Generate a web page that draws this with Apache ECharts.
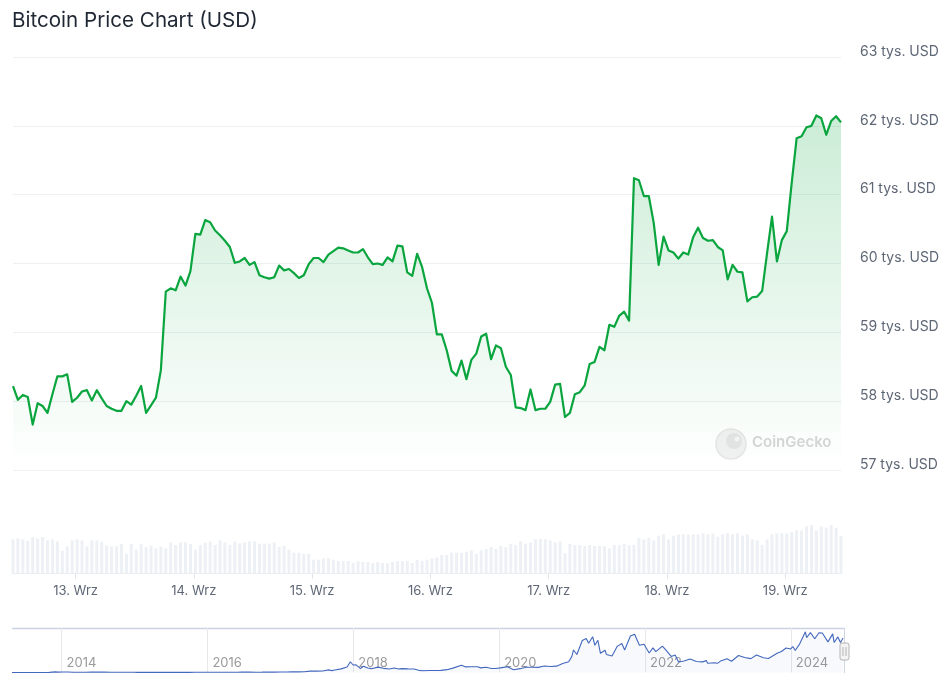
<!DOCTYPE html>
<html>
<head>
<meta charset="utf-8">
<script src="https://cdn.jsdelivr.net/npm/echarts@6/dist/echarts.min.js"></script>
<style>
html,body{margin:0;padding:0;background:#fff;}
#chart{width:948px;height:691px;}
</style>
</head>
<body>
<div id="chart"></div>
<script>
// ---------- DATA ----------
// hourly price (thousand USD), 12 Wrz ~11:18 -> 19 Wrz ~11:18
const priceValues = [
58.22,58.02,58.09,58.06,57.66,57.97,57.93,57.83,58.10,58.36,
58.36,58.39,57.99,58.05,58.14,58.16,58.01,58.16,58.04,57.93,
57.89,57.86,57.86,58.00,57.95,58.08,58.22,57.83,57.94,58.05,
58.45,59.59,59.64,59.61,59.81,59.68,59.89,60.43,60.42,60.63,
60.60,60.48,60.41,60.33,60.24,60.01,60.03,60.08,59.98,60.02,
59.83,59.80,59.78,59.80,59.97,59.90,59.92,59.86,59.79,59.83,
59.99,60.08,60.08,60.02,60.13,60.18,60.23,60.22,60.19,60.16,
60.16,60.21,60.09,59.99,60.00,59.98,60.09,60.03,60.26,60.25,
59.87,59.82,60.14,59.95,59.64,59.43,58.97,58.97,58.74,58.44,
58.37,58.59,58.32,58.60,58.69,58.94,58.98,58.61,58.81,58.77,
58.50,58.38,57.91,57.90,57.87,58.17,57.87,57.89,57.89,57.99,
58.24,58.25,57.77,57.83,58.10,58.13,58.23,58.54,58.57,58.79,
58.74,59.11,59.08,59.24,59.30,59.17,61.24,61.21,60.98,60.98,
60.59,59.98,60.39,60.19,60.16,60.07,60.16,60.13,60.38,60.52,
60.37,60.33,60.34,60.24,60.19,59.77,59.98,59.88,59.87,59.45,
59.51,59.52,59.60,60.15,60.68,60.03,60.34,60.47,61.17,61.82,
61.85,61.98,62.00,62.15,62.11,61.87,62.07,62.14,62.05
];
// 24h volume (billion USD), one per price point
const volumeValues = [
34.3,35.3,34.3,32.7,36.7,35.3,36.7,33.3,34.3,32.3,
23.0,27.3,33.3,34.3,33.3,27.3,33.3,33.3,32.0,28.3,
27.3,27.3,30.0,19.7,30.0,24.0,30.0,26.7,28.3,25.3,
27.0,25.3,31.3,28.7,31.3,31.3,29.7,24.0,28.7,31.0,
32.3,28.7,33.3,31.3,28.7,32.3,30.3,31.3,32.3,32.3,
30.0,30.0,30.0,31.3,26.7,27.7,24.0,
21.0,21.0,20.0,20.0,14.0,14.0,15.3,15.3,14.0,12.7,
12.7,12.7,10.7,12.7,11.7,11.7,10.7,11.7,10.7,10.7,
11.7,12.7,12.7,12.7,10.7,14.0,12.7,14.0,15.3,16.3,
18.7,18.7,21.0,21.0,21.0,22.0,23.3,20.0,23.3,24.7,
26.7,24.7,27.7,26.7,30.0,28.7,32.3,30.0,31.3,34.7,
34.7,34.7,33.3,31.3,32.3,
20.7,30.0,28.7,28.7,27.7,28.7,27.7,27.7,27.7,25.3,
28.7,28.7,30.0,28.7,28.7,35.7,34.3,35.7,33.3,38.0,
39.3,34.3,38.0,39.3,39.3,39.3,39.3,39.3,40.3,39.3,
40.3,37.0,39.3,40.3,39.3,40.3,38.0,39.3,34.3,33.3,
28.7,34.3,39.3,40.3,40.3,40.3,41.7,43.3,43.3,47.3,
48.7,43.3,47.3,46.0,48.7,46.0,38.0
];
const startTime = Date.UTC(2024, 8, 12, 11, 18);
const hourMs = 3600 * 1000;
const dayTicks = [
  Date.UTC(2024, 8, 13), Date.UTC(2024, 8, 14), Date.UTC(2024, 8, 15),
  Date.UTC(2024, 8, 16), Date.UTC(2024, 8, 17), Date.UTC(2024, 8, 18),
  Date.UTC(2024, 8, 19)
];
const monthLabel = 'Wrz';
const priceUnit = ' tys. USD';

// navigator: full history (thousand USD)
const navDates = [
'2013-04-28','2013-06-01','2013-07-01','2013-08-01','2013-09-01','2013-10-01','2013-11-01','2013-11-30','2013-12-15',
'2014-01-05','2014-02-01','2014-03-01','2014-04-01','2014-05-01','2014-06-01','2014-07-01','2014-08-01','2014-09-01','2014-10-01','2014-11-01','2014-12-01',
'2015-01-01','2015-01-15','2015-02-01','2015-03-01','2015-04-01','2015-05-01','2015-06-01','2015-07-01','2015-08-01','2015-09-01','2015-10-01','2015-11-01','2015-11-05','2015-12-01',
'2016-01-01','2016-02-01','2016-03-01','2016-04-01','2016-05-01','2016-06-01','2016-06-17','2016-07-01','2016-08-01','2016-09-01','2016-10-01','2016-11-01','2016-12-01',
'2017-01-01','2017-02-01','2017-03-01','2017-04-01','2017-05-01','2017-06-01','2017-07-01','2017-08-01','2017-09-01','2017-09-15','2017-10-01','2017-11-01','2017-12-01','2017-12-17','2017-12-31',
'2018-01-15','2018-02-06','2018-02-20','2018-03-15','2018-04-01','2018-05-05','2018-06-01','2018-07-01','2018-07-25','2018-08-15','2018-09-01','2018-10-01','2018-11-01','2018-11-25','2018-12-15',
'2019-01-15','2019-02-15','2019-03-15','2019-04-15','2019-05-15','2019-06-26','2019-07-15','2019-08-15','2019-09-15','2019-10-01','2019-10-26','2019-11-25','2019-12-15',
'2020-01-15','2020-02-12','2020-03-13','2020-04-15','2020-05-15','2020-06-15','2020-07-15','2020-08-15','2020-09-15','2020-10-15','2020-11-15','2020-12-15','2020-12-31',
'2021-01-08','2021-01-25','2021-02-21','2021-03-13','2021-03-25','2021-04-14','2021-04-25','2021-05-10','2021-05-23','2021-06-15','2021-06-22','2021-07-20','2021-08-15','2021-09-07','2021-09-21','2021-10-20','2021-11-10','2021-12-04','2021-12-27',
'2022-01-22','2022-02-10','2022-02-24','2022-03-29','2022-04-15','2022-05-12','2022-06-01','2022-06-18','2022-07-15','2022-08-15','2022-09-15','2022-10-15','2022-11-05','2022-11-10','2022-12-15','2022-12-30',
'2023-01-15','2023-02-15','2023-03-10','2023-04-14','2023-05-15','2023-06-15','2023-07-13','2023-08-17','2023-09-11','2023-10-24','2023-11-15','2023-12-08','2023-12-31',
'2024-01-11','2024-01-23','2024-02-15','2024-03-14','2024-03-20','2024-04-08','2024-04-30','2024-05-21','2024-06-07','2024-07-05','2024-07-29','2024-08-05','2024-08-24','2024-09-06','2024-09-19'
];
const navPrices = [
0.13,0.11,0.09,0.10,0.13,0.13,0.2,1.1,0.7,
0.9,0.8,0.56,0.47,0.45,0.63,0.64,0.59,0.48,0.39,0.33,0.38,
0.32,0.2,0.23,0.26,0.25,0.23,0.22,0.26,0.28,0.23,0.24,0.32,0.4,0.38,
0.43,0.37,0.43,0.42,0.45,0.53,0.75,0.67,0.62,0.57,0.61,0.73,0.75,
0.99,0.97,1.19,1.08,1.35,2.4,2.5,2.8,4.7,3.3,4.4,6.5,10.0,19.3,13.5,
13.8,7.0,11.2,8.2,6.9,9.7,7.5,6.4,8.2,6.3,7.0,6.6,6.3,3.9,3.2,
3.6,3.6,3.9,5.1,7.9,12.9,10.2,10.3,10.3,8.3,9.5,7.1,7.1,
8.8,10.3,4.9,6.9,9.4,9.4,9.2,11.8,10.8,11.4,16.0,19.4,29.0,
40.5,32.4,57.5,61.2,52.5,64.4,49.0,58.0,34.5,40.0,32.5,29.8,47.0,52.0,40.5,65.5,68.8,49.0,50.8,
35.0,44.3,37.5,47.5,40.5,28.9,31.5,19.0,20.8,24.3,19.8,19.1,21.3,16.5,17.4,16.5,
20.8,24.6,20.2,30.5,27.1,25.0,31.4,26.5,25.2,34.5,37.8,44.0,42.3,
46.6,39.5,52.0,73.1,62.5,71.6,60.6,71.4,71.0,55.0,69.4,54.0,64.0,53.9,62.0
];
const navYears = [2014, 2016, 2018, 2020, 2022, 2024];

// ---------- BUILD ----------
function toYear(s) {
  const p = s.split('-').map(Number);
  const t = Date.UTC(p[0], p[1] - 1, p[2]);
  const a = Date.UTC(p[0], 0, 1), b = Date.UTC(p[0] + 1, 0, 1);
  return p[0] + (t - a) / (b - a);
}
const times = priceValues.map((v, i) => startTime + i * hourMs);
const priceData = priceValues.map((v, i) => [times[i], v]);
const volumeData = volumeValues.map((v, i) => [times[i], v]);
const navData = navPrices.map((v, i) => [toYear(navDates[i]), v]);
const tMin = times[0], tMax = times[times.length - 1];

const FONT = 'Inter, "Noto Sans", sans-serif';
const chart = echarts.init(document.getElementById('chart'), null, {renderer: 'canvas'});

chart.setOption({
  backgroundColor: '#ffffff',
  animation: false,
  textStyle: {fontFamily: FONT},
  title: {
    text: 'Bitcoin Price Chart (USD)',
    left: 12, top: 10, padding: 0,
    textStyle: {fontFamily: FONT, fontSize: 20.6, fontWeight: 400, color: '#1f2734'}
  },
  grid: [
    {left: 13, right: 107, top: 57, height: 413, outerBoundsMode: 'none', containLabel: false},
    {left: 13, right: 107, top: 523.7, height: 50, outerBoundsMode: 'none', containLabel: false},
    {left: 12, right: 105, top: 628, height: 44.5, outerBoundsMode: 'none', containLabel: false}
  ],
  xAxis: [
    {type: 'value', gridIndex: 0, min: tMin, max: tMax, show: false, splitLine: {show: false}},
    {
      type: 'value', gridIndex: 1, min: tMin, max: tMax,
      axisLine: {show: true, lineStyle: {color: '#e9ecf0', width: 1}},
      axisTick: {show: true, length: 5, lineStyle: {color: '#dfe3e8'}, customValues: dayTicks},
      axisLabel: {
        customValues: dayTicks, margin: 11, fontSize: 13, color: '#5e6775', fontFamily: FONT,
        formatter: function (v) { return new Date(v).getUTCDate() + '. ' + monthLabel; }
      },
      splitLine: {show: false}
    },
    {
      type: 'value', gridIndex: 2, min: 2013.32, max: 2024.715,
      axisLine: {show: false},
      axisTick: {show: false, customValues: navYears},
      axisLabel: {
        customValues: navYears, inside: true, align: 'left', verticalAlign: 'bottom',
        margin: 3, padding: [0, 0, 0, 5], fontSize: 13, color: '#9a9a9a', fontFamily: FONT,
        formatter: function (v) { return String(Math.round(v)); }
      },
      splitLine: {show: true, lineStyle: {color: '#e6e8ec', width: 1}}
    }
  ],
  yAxis: [
    {
      type: 'value', gridIndex: 0, position: 'right', min: 57, max: 63, interval: 1,
      axisLine: {show: false}, axisTick: {show: false},
      axisLabel: {
        margin: 19, fontSize: 14, lineHeight: 11, color: '#5e6775', verticalAlign: 'bottom', fontFamily: FONT,
        formatter: function (v) { return v + priceUnit; }
      },
      splitLine: {show: true, lineStyle: {color: '#eef0f3', width: 1}}
    },
    {type: 'value', gridIndex: 1, min: 0, max: 50, show: false, splitLine: {show: false}},
    {type: 'value', gridIndex: 2, min: 0, max: 80, show: false, splitLine: {show: false}}
  ],
  series: [
    {
      type: 'bar', xAxisIndex: 1, yAxisIndex: 1, data: volumeData,
      barWidth: 3, clip: false, silent: true,
      itemStyle: {color: '#edf0f4'}
    },
    {
      type: 'line', xAxisIndex: 0, yAxisIndex: 0, data: priceData,
      showSymbol: false, symbol: 'none', smooth: false, z: 5,
      lineStyle: {color: '#0aa53e', width: 2.2, join: 'round'},
      areaStyle: {
        origin: 'start',
        color: new echarts.graphic.LinearGradient(0, 0, 0, 1, [
          {offset: 0, color: 'rgba(10,168,62,0.30)'},
          {offset: 1, color: 'rgba(10,168,62,0.0)'}
        ])
      }
    },
    {
      type: 'line', xAxisIndex: 2, yAxisIndex: 2, data: navData,
      showSymbol: false, symbol: 'none',
      lineStyle: {color: '#4267bd', width: 1.1},
      areaStyle: {origin: 'start', color: 'rgba(51,92,173,0.05)'}
    }
  ],
  graphic: [
    // watermark
    {type: 'circle', shape: {cx: 731, cy: 444, r: 15}, style: {fill: '#f1f1f1', stroke: '#e6e6e6', lineWidth: 1.5}, z: 1, silent: true},
    {type: 'circle', shape: {cx: 734, cy: 441, r: 8}, style: {fill: '#e4e4e4'}, z: 1, silent: true},
    {type: 'circle', shape: {cx: 737, cy: 439, r: 2.5}, style: {fill: '#f6f6f6'}, z: 1, silent: true},
    {type: 'text', left: 752, top: 435, style: {text: 'CoinGecko', font: '600 15px ' + FONT, fill: '#d6d6d6'}, z: 1, silent: true},
    // navigator outline
    {type: 'line', shape: {x1: 12, y1: 628.5, x2: 845, y2: 628.5}, style: {stroke: '#c9d2e2', lineWidth: 1.6}, silent: true},
    {type: 'line', shape: {x1: 844.5, y1: 628, x2: 844.5, y2: 673}, style: {stroke: '#cfd7e4', lineWidth: 1}, silent: true},
    // navigator handle
    {type: 'rect', shape: {x: 840, y: 643, width: 9, height: 17, r: 2}, style: {fill: '#f4f4f4', stroke: '#b4b4b4', lineWidth: 1}, z: 10, silent: true},
    {type: 'line', shape: {x1: 843, y1: 647, x2: 843, y2: 656}, style: {stroke: '#b4b4b4', lineWidth: 1}, z: 11, silent: true},
    {type: 'line', shape: {x1: 846, y1: 647, x2: 846, y2: 656}, style: {stroke: '#b4b4b4', lineWidth: 1}, z: 11, silent: true}
  ]
});
</script>
</body>
</html>
